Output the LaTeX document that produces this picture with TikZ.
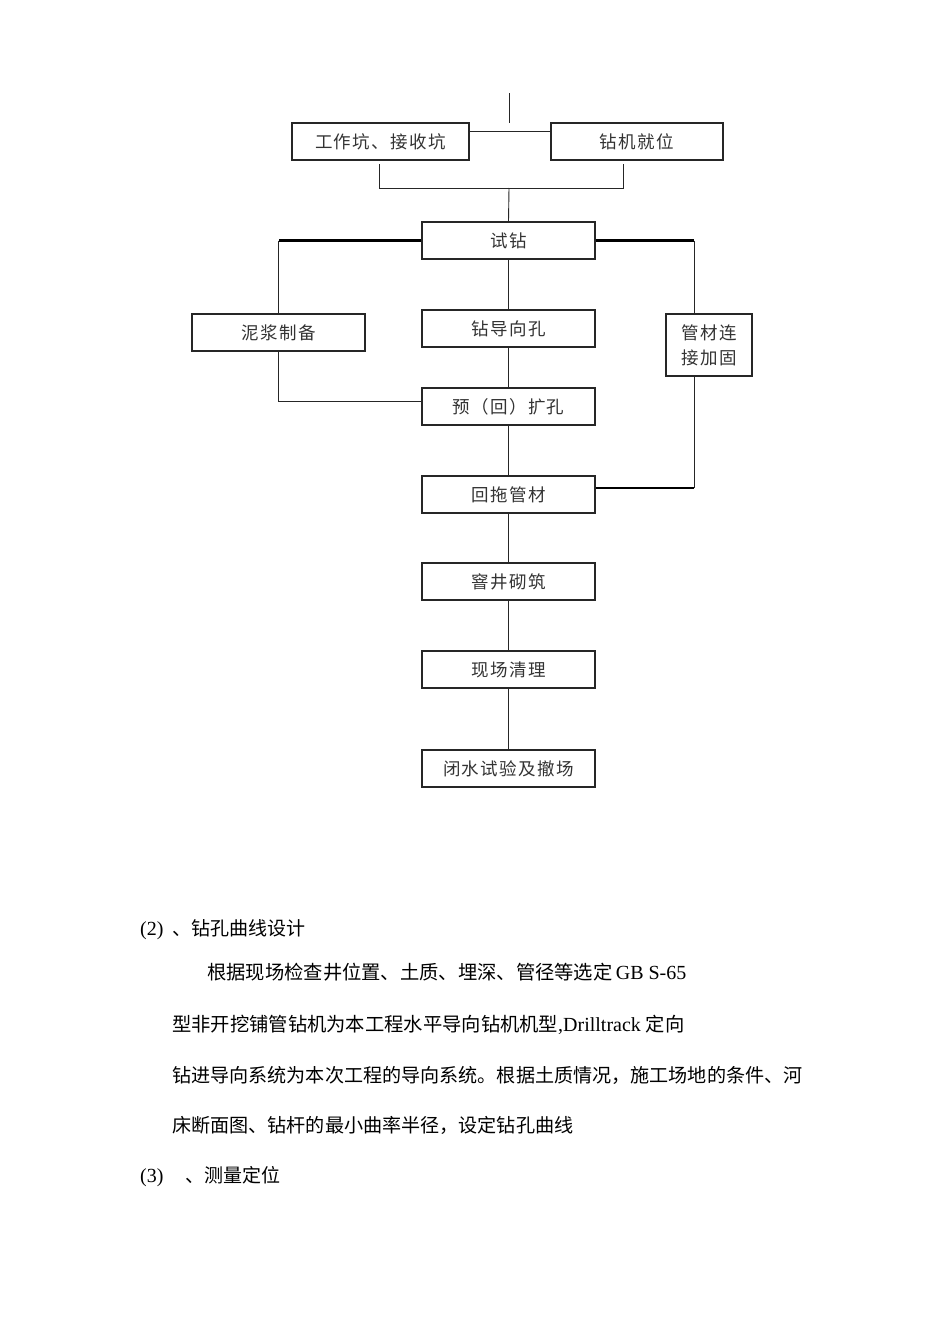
\documentclass[tikz,border=0pt]{standalone}
\usepackage{fontspec}
\setmainfont{Liberation Serif}
\newfontfamily\cjk{Noto Sans CJK SC}
\newfontfamily\cjkbox[LetterSpace=8]{Noto Sans CJK SC}
\begin{document}
\begin{tikzpicture}[x=1pt,y=-1pt,
  box/.style={draw=black!85, line width=1.2pt, minimum width=173pt, minimum height=37pt, inner sep=0pt,
    text=black!80, font=\cjkbox\fontsize{17.5}{25}\selectfont, align=center},
  conn/.style={draw=black!85, line width=0.9pt},
  thickconn/.style={draw=black, line width=2.3pt},
  body/.style={anchor=base west, inner sep=0pt, text=black, font=\fontsize{20}{24}\selectfont}]
\useasboundingbox (0,0) rectangle (950,1344);
\fill[white] (0,0) rectangle (950,1344);

% boxes
\node[box, minimum width=177pt] (a) at (380.5,141.5) {工作坑、接收坑};
\node[box, minimum width=172pt] (b) at (637,141.5) {钻机就位};
\node[box] (t) at (508.5,240.5) {试钻};
\node[box] (m) at (278.5,332.5) {泥浆制备};
\node[box] (g) at (508.5,328.5) {钻导向孔};
\node[box, minimum width=86pt, minimum height=62pt] (p) at (709,345) {管材连\\接加固};
\node[box] (k) at (508.5,406.5) {预（回）扩孔};
\node[box] (h) at (508.5,494.5) {回拖管材};
\node[box] (w) at (508.5,581.5) {窨井砌筑};
\node[box] (c) at (508.5,669.5) {现场清理};
\node[box] (z) at (508.5,768.5) {闭水试验及撤场};

% coordinates
\coordinate (top) at (509,93);
\coordinate (topend) at (509,123);
\coordinate (junc) at (509,131);
\coordinate (bl0) at (379,164);
\coordinate (bl) at (379,188);
\coordinate (br0) at (623,164);
\coordinate (br) at (623,188);
\coordinate (bm) at (509,188);
\coordinate (px) at (694,0);

% top connectors
\draw[conn] (top) -- (topend);
\draw[conn] (a.east |- junc) -- (b.west |- junc);
\draw[conn] (bl0) -- (bl) -- (br) -- (br0);
\draw[conn] (bm) -- (t.north);

% left branch
\draw[thickconn] (t.west) -- (t.west -| m.north);
\draw[conn] (t.west -| m.north) -- (m.north);
\draw[conn] (m.south) -- ([yshift=5.5pt]k.west -| m.south) -- ([yshift=5.5pt]k.west);

% right branch
\draw[thickconn] (t.east) -- (t.east -| px);
\draw[conn] (t.east -| px) -- (p.north -| px);
\draw[conn] (p.south -| px) -- ([yshift=6.5pt]h.east -| px);
\draw[thickconn] ([yshift=6.5pt]h.east -| px) -- ([yshift=6.5pt]h.east);

% main chain
\draw[conn] (t.south) -- (g.north);
\draw[conn] (g.south) -- (k.north);
\draw[conn] (k.south) -- (h.north);
\draw[conn] (h.south) -- (w.north);
\draw[conn] (w.south) -- (c.north);
\draw[conn] (c.south) -- (z.north);

% body text
\node[body] (t1) at (140,935) {(2)\hspace{9pt}{\cjk\fontsize{19}{24}\selectfont 、钻孔曲线设计}};
\node[body] (t2) at (207,979) {{\cjk\fontsize{19.3}{24}\selectfont 根据现场检查井位置、土质、埋深、管径等选定}\,GB S-65};
\node[body] (t3) at (172,1031) {{\cjk\fontsize{19.3}{24}\selectfont 型非开挖铺管钻机为本工程水平导向钻机机型},Drilltrack {\cjk\fontsize{19.3}{24}\selectfont 定向}};
\node[body] (t4) at (172,1082) {\cjk\fontsize{19.1}{24}\selectfont 钻进导向系统为本次工程的导向系统。根据土质情况，施工场地的条件、河};
\node[body] (t5) at (172,1132) {\cjk\fontsize{19.1}{24}\selectfont 床断面图、钻杆的最小曲率半径，设定钻孔曲线};
\node[body] (t6) at (140,1182) {(3)\hspace{22pt}{\cjk\fontsize{19}{24}\selectfont 、测量定位}};
\end{tikzpicture}
\end{document}
